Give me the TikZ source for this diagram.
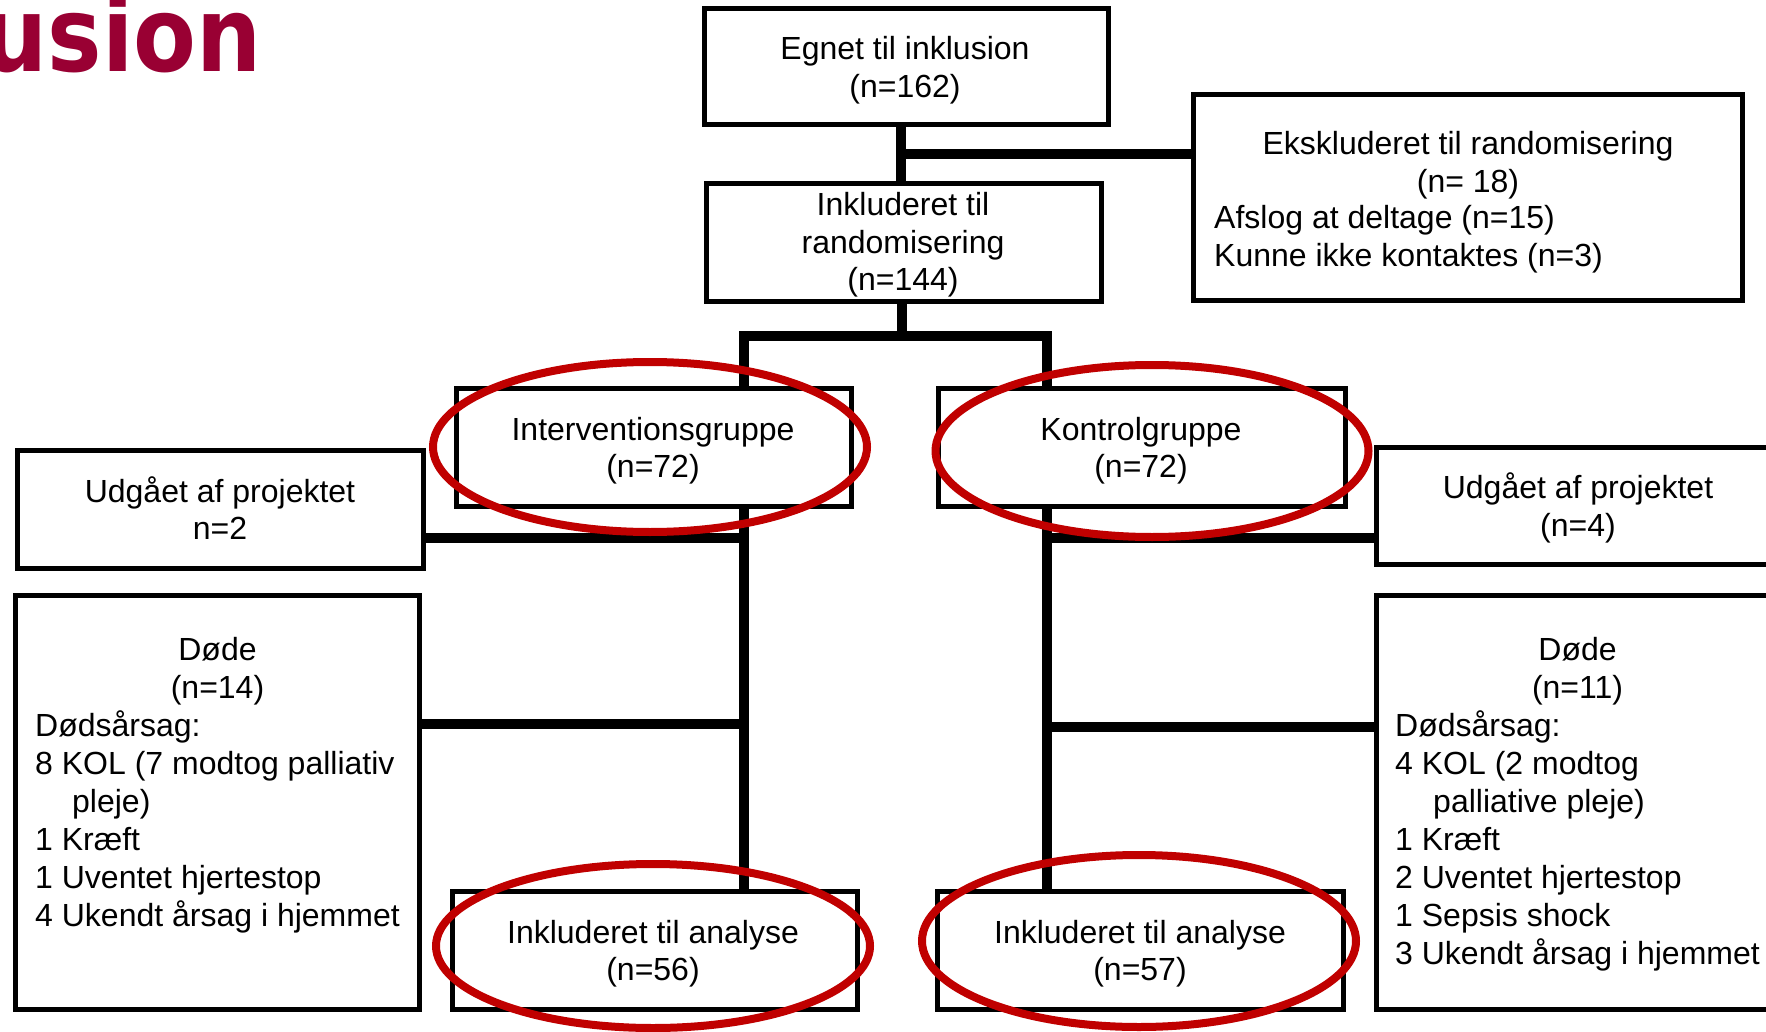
\documentclass[tikz,border=0pt]{standalone}
\usepackage{fontspec}
\setmainfont{Liberation Sans}
\newfontfamily\titlefont{DejaVu Sans}
\usetikzlibrary{shapes.geometric}
\definecolor{ringred}{HTML}{C00000}
\definecolor{titlered}{HTML}{990033}
\newcommand{\linesC}[1]{\begin{tabular}[t]{@{}c@{}}#1\end{tabular}}
\newcommand{\linesL}[1]{\begin{tabular}[t]{@{}l@{}}#1\end{tabular}}
\tikzset{
  box/.style={draw=black, line width=5pt, fill=white, inner sep=0pt, rectangle},
  conn/.style={draw=black, line width=10pt},
  ring/.style={draw=ringred, line width=8pt, ellipse, inner sep=0pt},
  txt/.style={inner sep=0pt, anchor=base, font=\fontsize{32}{37.5}\selectfont},
  txtl/.style={inner sep=0pt, anchor=base west, font=\fontsize{32}{37.5}\selectfont},
  txtd/.style={inner sep=0pt, anchor=base west, font=\fontsize{32}{38}\selectfont},
}
\begin{document}
\begin{tikzpicture}[x=1pt,y=-1pt]
\fill[white] (0,0) rectangle (1766,1032);
\useasboundingbox (0,0) rectangle (1766,1032);

% title (cut off at the left edge)
\node[inner sep=0pt, anchor=base east, text=titlered,
      font=\titlefont\bfseries\fontsize{104}{104}\selectfont] (title) at (262,72) {\scalebox{0.88}[1]{usion}};

% boxes
\node[box, minimum width=404pt, minimum height=116pt] (egnet)   at (906,67) {};
\node[box, minimum width=395pt, minimum height=117pt] (inkrand) at (903.5,242.5) {};
\node[box, minimum width=549pt, minimum height=205pt] (eksk)    at (1467.5,197.5) {};
\node[box, minimum width=395pt, minimum height=118pt] (interv)  at (653.5,447) {};
\node[box, minimum width=407pt, minimum height=118pt] (kontrol) at (1141.5,447) {};
\node[box, minimum width=406pt, minimum height=118pt] (udgL)    at (220,509) {};
\node[box, minimum width=405pt, minimum height=117pt] (udgR)    at (1578.5,505.5) {};
\node[box, minimum width=404pt, minimum height=414pt] (dodeL)   at (217,802) {};
\node[box, minimum width=405pt, minimum height=414pt] (dodeR)   at (1578.5,802) {};
\node[box, minimum width=405pt, minimum height=118pt] (analL)   at (654.5,950) {};
\node[box, minimum width=406pt, minimum height=118pt] (analR)   at (1140,950) {};

% junction points
\coordinate (j1) at (901,154);
\coordinate (s)  at (902,336);
\coordinate (bl) at (744,336);
\coordinate (br) at (1047,336);
\coordinate (hL1) at (744,538);
\coordinate (hL2) at (744,724);
\coordinate (hR1) at (1047,538);
\coordinate (hR2) at (1047,727);

% connectors
\draw[conn] (egnet.south -| j1) -- (inkrand.north -| j1);
\draw[conn] (j1) -- (eksk.west |- j1);
\draw[conn] (inkrand.south -| s) -- (s);
\draw[conn] (interv.north -| bl) -- (bl) -- (br) -- (kontrol.north -| br);
\draw[conn] (interv.south -| bl) -- (analL.north -| bl);
\draw[conn] (kontrol.south -| br) -- (analR.north -| br);
\draw[conn] (udgL.east |- hL1) -- (hL1);
\draw[conn] (dodeL.east |- hL2) -- (hL2);
\draw[conn] (hR1) -- (udgR.west |- hR1);
\draw[conn] (hR2) -- (dodeR.west |- hR2);

% texts
\node[txt] (tEgnet) at (905,60) {\linesC{Egnet til inklusion\\(n=162)}};
\node[txt] (tInk) at (903,216) {\linesC{Inkluderet til\\randomisering\\(n=144)}};
\node[txt] (tEksC) at (1468,155) {\linesC{Ekskluderet til randomisering\\(n= 18)}};
\node[txtl] (tEksL) at (1214,229) {\linesL{Afslog at deltage (n=15)\\Kunne ikke kontaktes (n=3)}};
\node[txt] (tInt) at (653,440) {\linesC{Interventionsgruppe\\(n=72)}};
\node[txt] (tKon) at (1141,440) {\linesC{Kontrolgruppe\\(n=72)}};
\node[txt] (tUdgL) at (220,502) {\linesC{Udgået af projektet\\n=2}};
\node[txt] (tUdgR) at (1578,498.5) {\linesC{Udgået af projektet\\(n=4)}};
\node[txt] (tAnalL) at (653,943) {\linesC{Inkluderet til analyse\\(n=56)}};
\node[txt] (tAnalR) at (1140,943) {\linesC{Inkluderet til analyse\\(n=57)}};
\node[txtd] (tDodeL) at (35,660) {\linesL{\multicolumn{1}{c}{Døde}\\ \multicolumn{1}{c}{(n=14)}\\ Dødsårsag:\\ 8 KOL (7 modtog palliativ\\ \hspace*{37pt}pleje)\\ 1 Kræft\\ 1 Uventet hjertestop\\ 4 Ukendt årsag i hjemmet}};
\node[txtd] (tDodeR) at (1395,660) {\linesL{\multicolumn{1}{c}{Døde}\\ \multicolumn{1}{c}{(n=11)}\\ Dødsårsag:\\ 4 KOL (2 modtog\\ \hspace*{38pt}palliative pleje)\\ 1 Kræft\\ 2 Uventet hjertestop\\ 1 Sepsis shock\\ 3 Ukendt årsag i hjemmet}};

% red highlight rings
\node[ring, minimum width=434pt, minimum height=170pt] (r1) at (650,447) {};
\node[ring, minimum width=433pt, minimum height=172pt] (r2) at (1152,451) {};
\node[ring, minimum width=434pt, minimum height=164pt] (r3) at (653,946) {};
\node[ring, minimum width=434pt, minimum height=172pt] (r4) at (1139,941) {};
\end{tikzpicture}
\end{document}
